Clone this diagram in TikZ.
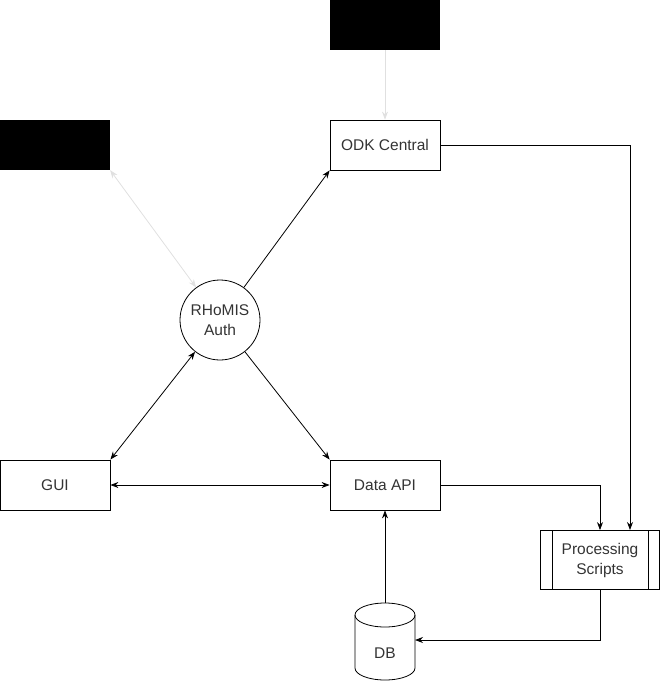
\documentclass[tikz,border=0pt]{standalone}
\usepackage{fontspec}
\setmainfont{Liberation Sans}
\usetikzlibrary{arrows.meta,shapes.geometric}
\begin{document}
\begin{tikzpicture}[x=1pt,y=-1pt,
  txt/.style={font=\fontsize{15.5}{20}\selectfont,text=black!80},
  box/.style={draw,line width=0.8pt,minimum width=110pt,minimum height=50pt,inner sep=0pt,txt},
  blk/.style={fill=black,minimum width=110pt,minimum height=50pt,inner sep=0pt},
  conn/.style={line width=0.8pt,-{Stealth[length=8pt,width=6pt]}},
  dconn/.style={line width=0.8pt,{Stealth[length=8pt,width=6pt]}-{Stealth[length=8pt,width=6pt]}},
  gconn/.style={draw=black!12,line width=0.8pt}]
\useasboundingbox (0,0) rectangle (661,681);
\node[blk] (top) at (385,25) {};
\node[blk] (left) at (55,145) {};
\node[box] (odk) at (385,145) {ODK Central};
\node[box] (gui) at (55,485) {GUI};
\node[box] (api) at (385,485) {Data API};
\node[draw,circle,line width=0.8pt,minimum size=80pt,inner sep=0pt,align=center,txt] (auth) at (220,320) {RHoMIS\\Auth};
\node[box,minimum width=119pt,minimum height=59pt,align=center] (proc) at (600,560) {Processing\\Scripts};
\draw[line width=0.8pt] (552,530) -- (552,590) (648,530) -- (648,590);
% DB cylinder
\coordinate (dbt) at (385,603);
\coordinate (dbr) at (415,640);
\draw[line width=0.8pt,fill=white] (355,615) -- (355,668) arc[start angle=180,end angle=0,x radius=30,y radius=12] -- (415,615) arc[start angle=0,end angle=-180,x radius=30,y radius=12] -- cycle;
\draw[line width=0.8pt] (355,615) arc[start angle=180,end angle=0,x radius=30,y radius=12];
\node[txt] (db) at (385,653) {DB};
% connectors
\draw[gconn,-{Stealth[length=8pt,width=6pt]}] (top) -- (odk);
\draw[gconn,{Stealth[length=8pt,width=6pt]}-{Stealth[length=8pt,width=6pt]}] (left.south east) -- (auth);
\draw[conn] (auth) -- (odk.south west);
\draw[conn] (auth) -- (api.north west);
\draw[dconn] (gui.north east) -- (auth);
\draw[dconn] (gui) -- (api);
\draw[conn] (dbt) -- (api);
\draw[conn] (api.east) -| (proc.north);
\draw[conn] (odk.east) -| (630,530);
\draw[conn] (proc.south) |- (dbr);
\end{tikzpicture}
\end{document}
